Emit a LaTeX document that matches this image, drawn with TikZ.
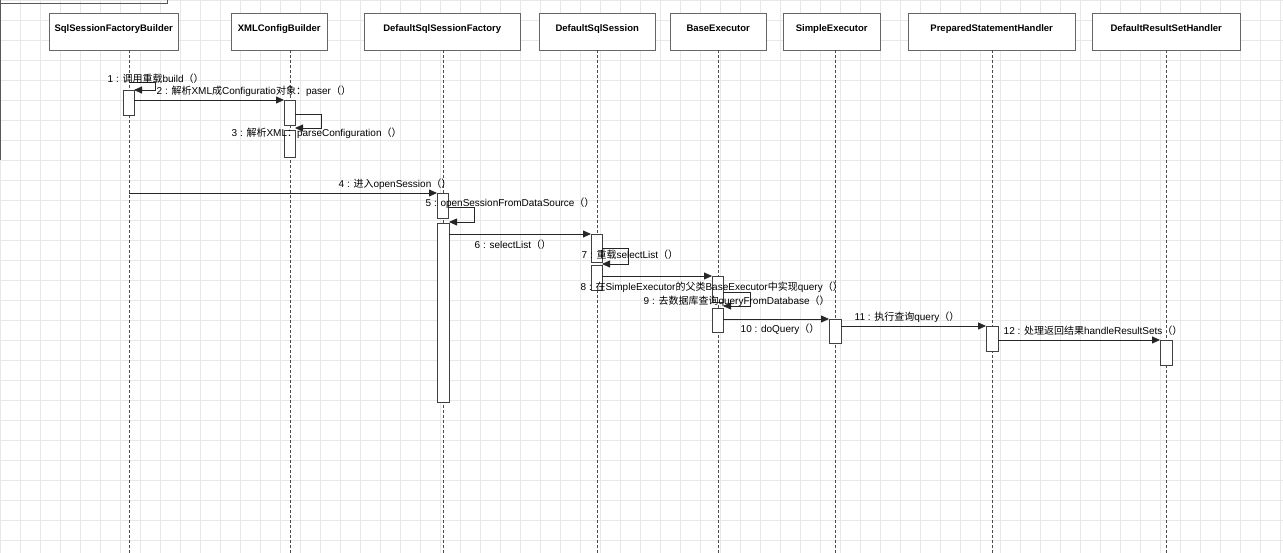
\documentclass[tikz,border=0pt]{standalone}
\usepackage{fontspec}
\setmainfont{Liberation Sans}
\newfontfamily\cjk{Noto Sans CJK SC}
\usetikzlibrary{arrows.meta}
\begin{document}
\begin{tikzpicture}[x=1pt,y=-1pt,
  hdr/.style={draw=gray!80!black,fill=white,minimum height=37pt,anchor=north west,inner sep=0pt,text height=8pt,text depth=8pt,font=\fontsize{9.5}{11}\selectfont\bfseries},
  life/.style={densely dashed,gray!60!black,line width=0.6pt},
  act/.style={draw=gray!50!black,fill=white,line width=0.6pt},
  msg/.style={gray!30!black,line width=0.8pt,-{Triangle[length=8pt,width=7pt]}},
  lbl/.style={font=\fontsize{10}{11}\selectfont,anchor=west,inner sep=0.5pt,text=black}]
\useasboundingbox (0,0) rectangle (1283,553);
\fill[white] (0,0) rectangle (1283,553);
\foreach \x in {0,20,...,1280} \draw[black!9,line width=0.4pt] (\x,0) -- (\x,553);
\foreach \y in {0,20,...,540} \draw[black!9,line width=0.4pt] (0,\y) -- (1283,\y);
\draw[gray!70!black,line width=0.6pt] (0.5,0) -- (0.5,160) (0,3) -- (167,3) -- (167,0);
% headers
\node[hdr,minimum width=129pt] (h1) at (49,13) {SqlSessionFactoryBuilder};
\node[hdr,minimum width=96pt] (h2) at (231,13) {XMLConfigBuilder};
\node[hdr,minimum width=156pt] (h3) at (364,13) {DefaultSqlSessionFactory};
\node[hdr,minimum width=116pt] (h4) at (539,13) {DefaultSqlSession};
\node[hdr,minimum width=96pt] (h5) at (670,13) {BaseExecutor};
\node[hdr,minimum width=97pt] (h6) at (783,13) {SimpleExecutor};
\node[hdr,minimum width=167pt] (h7) at (908,13) {PreparedStatementHandler};
\node[hdr,minimum width=148pt] (h8) at (1092,13) {DefaultResultSetHandler};
\foreach \x/\h in {129/h1,290/h2,443/h3,597/h4,718/h5,835/h6,992/h7,1166/h8}
  \draw[life] (\x,50) -- (\x,553);
% activations
\draw[act] (123,90) rectangle (134,115);
\draw[act] (284,100) rectangle (295,125);
\draw[act] (284,130) rectangle (295,157);
\draw[act] (437,193) rectangle (448,218);
\draw[act] (437,223) rectangle (449,402);
\draw[act] (591,234) rectangle (602,262);
\draw[act] (591,265) rectangle (602,290);
\draw[act] (712,276) rectangle (723,302);
\draw[act] (712,308) rectangle (723,332);
\draw[act] (829,319) rectangle (841,343);
\draw[act] (986,326) rectangle (998,351);
\draw[act] (1160,340) rectangle (1172,365);
% messages
\coordinate (a1) at (129,82); \coordinate (b1) at (134,90);
\draw[msg] (a1) -- (155,82) -- (155,90) -- (b1);
\node[lbl] (l1) at (107,79) {1 : {\cjk 调用重载}build{\cjk （）}};
\coordinate (a2) at (134,100); \coordinate (b2) at (284,100);
\draw[msg] (a2) -- (b2);
\node[lbl] (l2) at (156,91) {2 : {\cjk 解析}XML{\cjk 成}Configuratio{\cjk 对象：}paser{\cjk （）}};
\coordinate (a3) at (295,114); \coordinate (b3) at (295,128);
\draw[msg] (a3) -- (321,114) -- (321,128) -- (b3);
\node[lbl] (l3) at (231,133) {3 : {\cjk 解析}XML{\cjk ：}parseConfiguration{\cjk （）}};
\coordinate (a4) at (129,193); \coordinate (b4) at (437,193);
\draw[msg] (a4) -- (b4);
\node[lbl] (l4) at (338,184) {4 : {\cjk 进入}openSession{\cjk （）}};
\coordinate (a5) at (448,207); \coordinate (b5) at (449,222);
\draw[msg] (a5) -- (474,207) -- (474,222) -- (b5);
\node[lbl] (l5) at (425,203) {5 : openSessionFromDataSource{\cjk （）}};
\coordinate (a6) at (449,234); \coordinate (b6) at (591,234);
\draw[msg] (a6) -- (b6);
\node[lbl] (l6) at (474,245) {6 : selectList{\cjk （）}};
\coordinate (a7) at (602,248); \coordinate (b7) at (602,264);
\draw[msg] (a7) -- (628,248) -- (628,264) -- (b7);
\node[lbl] (l7) at (581,255) {7 : {\cjk 重载}selectList{\cjk （）}};
\coordinate (a8) at (602,276); \coordinate (b8) at (712,276);
\draw[msg] (a8) -- (b8);
\node[lbl] (l8) at (580,287) {8 : {\cjk 在}SimpleExecutor{\cjk 的父类}BaseExecutor{\cjk 中实现}query{\cjk （）}};
\coordinate (a9) at (723,292); \coordinate (b9) at (723,306);
\draw[msg] (a9) -- (750,292) -- (750,306) -- (b9);
\node[lbl] (l9) at (643,301) {9 : {\cjk 去数据库查询}queryFromDatabase{\cjk （）}};
\coordinate (a10) at (723,319); \coordinate (b10) at (829,319);
\draw[msg] (a10) -- (b10);
\node[lbl] (l10) at (740,329) {10 : doQuery{\cjk （）}};
\coordinate (a11) at (841,326); \coordinate (b11) at (986,326);
\draw[msg] (a11) -- (b11);
\node[lbl] (l11) at (854,317) {11 : {\cjk 执行查询}query{\cjk （）}};
\coordinate (a12) at (998,340); \coordinate (b12) at (1160,340);
\draw[msg] (a12) -- (b12);
\node[lbl] (l12) at (1003,331) {12 : {\cjk 处理返回结果}handleResultSets{\cjk （）}};
\end{tikzpicture}
\end{document}
